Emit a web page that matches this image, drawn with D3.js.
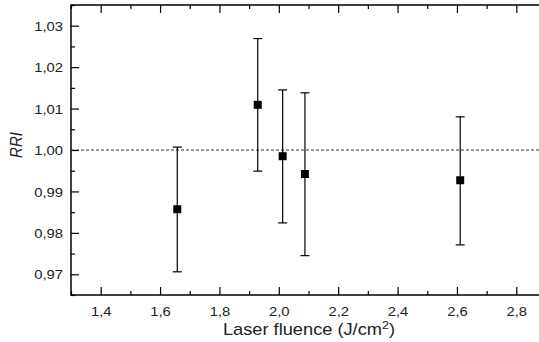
<!DOCTYPE html>
<html><head><meta charset="utf-8">
<script src="https://cdn.jsdelivr.net/npm/d3@7"></script>
<style>body{margin:0;background:#fff}svg{display:block}text{font-family:"Liberation Sans",Arial,sans-serif;fill:#222}</style>
</head><body>
<svg id="c" width="539" height="342"></svg>
<script>
const fluence = [1.658, 1.929, 2.013, 2.088, 2.611];
const rri     = [0.9857, 1.0109, 0.9985, 0.9942, 0.9927];
const errLow  = [0.9706, 0.9949, 0.9824, 0.9745, 0.9771];
const errHigh = [1.0007, 1.0269, 1.0145, 1.0138, 1.0080];
const xTicks = [1.4, 1.6, 1.8, 2.0, 2.2, 2.4, 2.6, 2.8];
const yTicks = [0.97, 0.98, 0.99, 1.00, 1.01, 1.02, 1.03];
const refLine = 1.0;

const svg = d3.select("#c");
const L = 71, R = 546, T = 5, B = 295;
const SX = 1.14; // horizontal stretch of text in reference
const x = d3.scaleLinear().domain([1.3, 2.9]).range([L, R]);
const y = d3.scaleLinear().domain([0.965, 1.035]).range([B, T]);
const fmt2 = d => d.toFixed(2).replace(".", ",");
const fmt1 = d => d.toFixed(1).replace(".", ",");
const xMinor = d3.range(1.3, 2.95, 0.1).map(v => +v.toFixed(2)).filter(v => !xTicks.some(t => Math.abs(t - v) < 1e-6));
const yMinor = d3.range(0.965, 1.0351, 0.005).map(v => +v.toFixed(3)).filter(v => !yTicks.some(t => Math.abs(t - v) < 1e-6));
const styleTicks = g => { g.select(".domain").remove(); g.selectAll("line").attr("stroke", "#000").attr("stroke-width", 1.2); };

// frame
svg.append("rect").attr("x", L).attr("y", T).attr("width", R - L).attr("height", B - T)
  .attr("fill", "none").attr("stroke", "#000").attr("stroke-width", 1.5);

// bottom axis
const gx = svg.append("g").attr("transform", `translate(0,${B})`)
  .call(d3.axisBottom(x).tickValues(xTicks).tickFormat(fmt1).tickSizeInner(-8).tickSizeOuter(0))
  .call(styleTicks);
gx.selectAll("text").attr("font-size", 13).attr("y", 21).attr("dy", 0)
  .attr("transform", `scale(${SX},1)`).style("fill", "#222");
svg.append("g").attr("transform", `translate(0,${B})`)
  .call(d3.axisBottom(x).tickValues(xMinor).tickFormat("").tickSizeInner(-4).tickSizeOuter(0)).call(styleTicks);
// top axis mirror
svg.append("g").attr("transform", `translate(0,${T})`)
  .call(d3.axisTop(x).tickValues(xTicks).tickFormat("").tickSizeInner(-8).tickSizeOuter(0)).call(styleTicks);
svg.append("g").attr("transform", `translate(0,${T})`)
  .call(d3.axisTop(x).tickValues(xMinor).tickFormat("").tickSizeInner(-4).tickSizeOuter(0)).call(styleTicks);

// left axis
const gy = svg.append("g").attr("transform", `translate(${L},0)`)
  .call(d3.axisLeft(y).tickValues(yTicks).tickFormat(fmt2).tickSizeInner(-8).tickSizeOuter(0))
  .call(styleTicks);
gy.selectAll("text").attr("font-size", 13).attr("x", -8 / SX).attr("dy", "0.36em")
  .attr("transform", `scale(${SX},1)`).style("fill", "#222");
svg.append("g").attr("transform", `translate(${L},0)`)
  .call(d3.axisLeft(y).tickValues(yMinor).tickFormat("").tickSizeInner(-4).tickSizeOuter(0)).call(styleTicks);

// reference line
svg.append("line").attr("x1", L).attr("x2", R).attr("y1", y(refLine)).attr("y2", y(refLine))
  .attr("stroke", "#333").attr("stroke-width", 1).attr("stroke-dasharray", "3,2");

// error bars
const data = fluence.map((f, i) => ({f, v: rri[i], lo: errLow[i], hi: errHigh[i]}));
const eb = svg.append("g").attr("stroke", "#000").attr("stroke-width", 1.2);
data.forEach(d => {
  eb.append("line").attr("x1", x(d.f)).attr("x2", x(d.f)).attr("y1", y(d.lo)).attr("y2", y(d.hi));
  eb.append("line").attr("x1", x(d.f) - 4.5).attr("x2", x(d.f) + 4.5).attr("y1", y(d.lo)).attr("y2", y(d.lo));
  eb.append("line").attr("x1", x(d.f) - 4.5).attr("x2", x(d.f) + 4.5).attr("y1", y(d.hi)).attr("y2", y(d.hi));
});
svg.append("g").selectAll("rect").data(data).join("rect")
  .attr("x", d => x(d.f) - 4).attr("y", d => y(d.v) - 4).attr("width", 8).attr("height", 8).attr("fill", "#000");

// titles
svg.append("text").attr("transform", `translate(309,335) scale(${SX},1)`).attr("text-anchor", "middle").attr("font-size", 16)
  .html('Laser fluence (J/cm<tspan dy="-6" font-size="11">2</tspan><tspan dy="6">)</tspan>');
svg.append("text").attr("transform", `translate(22,145) rotate(-90) scale(1,1.1)`).attr("text-anchor", "middle")
  .attr("font-size", 15).attr("font-style", "italic").text("RRI");
</script>
</body></html>
